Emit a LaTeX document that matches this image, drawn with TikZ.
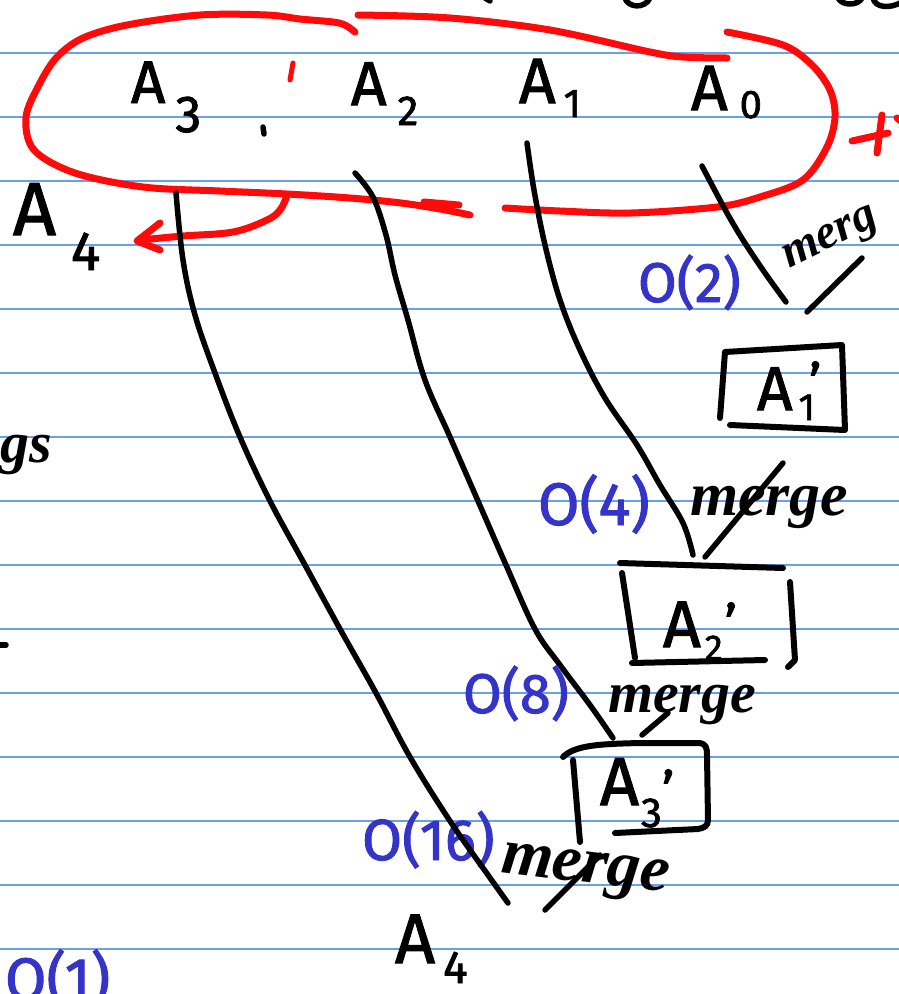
\documentclass[tikz,border=0pt]{standalone}
\usepackage{fontspec}
\setmainfont{Fira Sans}[FakeBold=1.6]
\newfontfamily\handit{Liberation Serif}
\definecolor{ruleblue}{RGB}{105,160,235}
\definecolor{inkblue}{RGB}{52,52,200}
\definecolor{inkred}{RGB}{255,10,10}
\newcommand{\Lab}[5]{{\fontsize{#1}{#1}\selectfont A}\kern#3pt\raisebox{-#4pt}{\fontsize{#2}{#2}\selectfont #5}}
\newcommand{\LabP}[7]{\Lab{#1}{#2}{#3}{#4}{#5}\kern#6pt\raisebox{#7pt}{\fontsize{54}{54}\selectfont '}}
\begin{document}
\begin{tikzpicture}[x=1pt,y=-1pt,
  ruling/.style={ruleblue, line width=1.6pt},
  pen/.style={black, line width=5.5pt, line cap=round, line join=round},
  boxpen/.style={black, line width=6pt, line cap=round, line join=round},
  redpen/.style={inkred, line width=7pt, line cap=round, line join=round},
  hand/.style={black, inner sep=0pt, outer sep=0pt, anchor=base west},
  cost/.style={inkblue, inner sep=0pt, outer sep=0pt, anchor=base west, font={\fontsize{#1}{#1}\selectfont}},
  mergetxt/.style={black, inner sep=0pt, outer sep=0pt, anchor=base west, font={\handit\bfseries\itshape\fontsize{#1}{#1}\selectfont}}]
\fill[white] (0,0) rectangle (899,994);
\useasboundingbox (0,0) rectangle (899,994);
% ruled paper
\foreach \yy in {53,117,...,949} \draw[ruling] (0,\yy) -- (899,\yy);

% cut-off strokes at the top edge and left edge
\draw[pen] (485,-2) -- (490,1);
\draw[pen] (625,-2) .. controls (628,8) and (645,9) .. (650,-2);
\draw[pen] (838,-2) .. controls (842,6) and (858,6) .. (862,-2);
\draw[pen] (873,-2) .. controls (875,8) and (890,9) .. (902,2);
\draw[pen] (-2,645) -- (6,645);

% red loop round the inputs
\draw[redpen] plot[smooth, tension=0.55] coordinates {(355,32) (345,25) (333,22) (300,19) (267,15) (200,15) (127,25) (83,38) (57,57) (40,83) (26,117) (34,150) (75,173) (143,187) (220,191) (287,194) (350,198) (401,203) (440,209) (470,215)};
\draw[redpen] (424,202) -- (459,205);
\draw[redpen] plot[smooth, tension=0.55] coordinates {(358,15) (450,18) (550,30) (650,52) (683,57) (727,58)};
\draw[redpen] plot[smooth, tension=0.55] coordinates {(727,32) (783,45) (812,65) (830,90) (835,117) (827,147) (803,180) (760,197) (717,207) (631,213) (560,211) (505,208)};
\draw[redpen] plot[smooth, tension=0.6] coordinates {(287,196) (280,210) (267,220) (233,232) (183,236) (140,240)};
\draw[redpen] (160,223) -- (137,241) -- (160,250);
\draw[redpen] (852,141) -- (888,133);
\draw[redpen] (882,115) -- (877,153);
\draw[redpen] (897,118) -- (902,122);
\draw[redpen, line width=5pt] (293,63) -- (290,80);
\draw[pen] (263,127) -- (264,134);

% labels
\node[hand] (a3) at (131,103) {\Lab{60}{52}{10}{29}{3}};
\node[hand] (a2) at (351,105) {\Lab{62}{42}{11}{20}{2}};
\node[hand] (a1) at (519,103) {\Lab{64}{40}{8}{14}{1}};
\node[hand] (a0) at (691,110) {\Lab{64}{40}{12}{8}{0}};
\node[hand] (a4l) at (13,235) {\Lab{75}{55}{15}{35}{4}};
\node[hand] (a4b) at (395,963) {\Lab{70}{46}{8}{20}{4}};
\node[hand] (a1p) at (757,410) {\LabP{62}{38}{6}{10}{1}{-6}{8}};
\node[hand] (a2p) at (663,647) {\LabP{66}{36}{4}{13}{2}{2}{4}};
\node[hand] (a3p) at (600,805) {\LabP{68}{42}{2}{22}{3}{0}{-5}};

% costs
\node[cost=56] (c2) at (638,302) {O(2)};
\node[cost=60] (c4) at (538,525) {O(4)};
\node[cost=56] (c8) at (463,713) {O(8)};
\node[cost=58] (c16) at (362,860) {O(16)};
\node[cost=60] (c1) at (5,1000) {O(1)};

% merge words
\node[mergetxt=48, rotate=26] (m1) at (789,268) {merg};
\node[mergetxt=62] (m2) at (690,515) {merge};
\node[mergetxt=58] (m3) at (608,712) {merge};
\node[mergetxt=66, rotate=-7] (m4) at (500,872) {merge};
\node[mergetxt=58, anchor=base east] (gs) at (52,462) {gs};

% boxes
\draw[boxpen] (720,418) -- (725,352) -- (842,345) -- (845,430) -- (730,425);
\draw[boxpen] (620,563) -- (783,568);
\draw[boxpen] (622,573) -- (635,658);
\draw[boxpen] (632,663) -- (765,660);
\draw[boxpen] (790,582) -- (795,660) -- (788,667);
\draw[boxpen] (563,757) .. controls (575,745) and (600,744) .. (640,743) -- (700,743) .. controls (706,744) and (707,748) .. (707,755) -- (708,820) .. controls (708,826) and (704,828) .. (698,829) -- (615,833);
\draw[boxpen] (573,760) -- (580,842);

% merge connectors
\coordinate (l3s) at (176,193); \coordinate (l3e) at (508,903);
\coordinate (l2s) at (355,173); \coordinate (l2e) at (613,738);
\coordinate (l1s) at (527,143); \coordinate (l1e) at (693,555);
\coordinate (l0s) at (702,166); \coordinate (l0e) at (786,302);
\draw[pen] plot[smooth, tension=0.6] coordinates {(l3s) (183,260) (195,315) (215,373) (240,437) (270,501) (305,565) (340,629) (376,693) (410,757) (450,821) (488,875) (l3e)};
\draw[pen] plot[smooth, tension=0.6] coordinates {(l2s) (373,197) (386,235) (395,275) (408,320) (425,380) (450,437) (478,501) (506,565) (535,629) (560,665) (590,705) (l2e)};
\draw[pen] plot[smooth, tension=0.6] coordinates {(l1s) (534,190) (545,245) (560,300) (580,350) (605,398) (637,445) (660,485) (683,523) (l1e)};
\draw[pen] plot[smooth, tension=0.6] coordinates {(l0s) (712,185) (727,213) (743,240) (765,273) (l0e)};
\draw[pen] (807,312) -- (862,258);
\draw[pen] (705,557) -- (783,463);
\draw[pen] (642,735) -- (668,713);
\draw[pen] (545,910) -- (600,855);
\end{tikzpicture}
\end{document}
